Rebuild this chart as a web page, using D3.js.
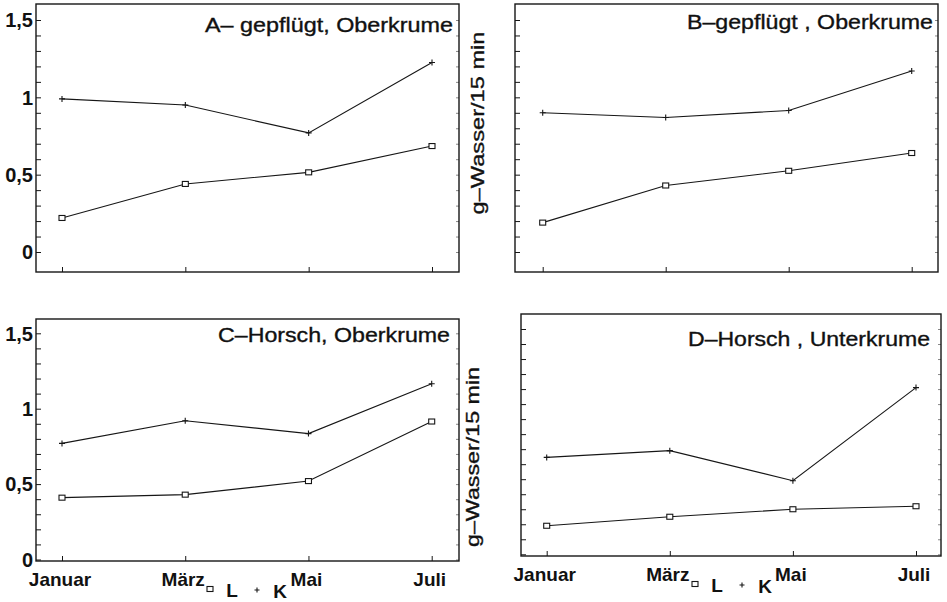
<!DOCTYPE html>
<html>
<head>
<meta charset="utf-8">
<script src="https://cdn.jsdelivr.net/npm/d3@7"></script>
<style>
    body { margin: 0; background: #fff; }
    svg text { font-family: 'Liberation Sans', Arial, sans-serif; fill: #111; }
    .heavy { stroke: #111; stroke-width: 0.35px; }
</style>
</head>
<body>
<div id="graph"></div>
<script>
// The data...
var months      = [ 'Januar', 'März', 'Mai', 'Juli' ];
var seriesNames = [ 'L', 'K' ];

var panelTitles = [ 'A– gepflügt, Oberkrume',
                    'B–gepflügt , Oberkrume',
                    'C–Horsch, Oberkrume',
                    'D–Horsch , Unterkrume' ];

// L (squares), one row per panel A..D
var valuesL = [ [ 0.22, 0.44, 0.515, 0.685 ],
                [ 0.19, 0.43, 0.525, 0.64  ],
                [ 0.41, 0.43, 0.52,  0.915 ],
                [ 0.19, 0.25, 0.30,  0.32  ] ];

// K (plus signs)
var valuesK = [ [ 0.99,  0.95, 0.77,  1.225 ],
                [ 0.90,  0.87, 0.915, 1.17  ],
                [ 0.77,  0.92, 0.835, 1.165 ],
                [ 0.645, 0.69, 0.49,  1.11  ] ];

var yTickValues = [ 0, 0.5, 1, 1.5 ];
var yTickLabels = [ '0', '0,5', '1', '1,5' ];
var yAxisTitle  = 'g–Wasser/15 min';

// Layout of the four panels (pixels)
var panels = [
    { left: 36,  right: 459, top: 4,   bottom: 272, y0: 252,   y1: 20,    x0: 62,    x1: 432,   ylab: true,  xlab: false, tw: 248, ty: 32  },
    { left: 515, right: 938, top: 4,   bottom: 272, y0: 252,   y1: 20,    x0: 542.7, x1: 911.7, ylab: false, xlab: false, tw: 246, ty: 28.5 },
    { left: 36,  right: 459, top: 319, bottom: 561, y0: 559.5, y1: 333.3, x0: 62,    x1: 431.7, ylab: true,  xlab: true,  tw: 232, ty: 342 },
    { left: 521, right: 941, top: 314, bottom: 556, y0: 554.3, y1: 329,   x0: 546.7, x1: 916,   ylab: false, xlab: true,  tw: 242, ty: 346 }
];

var titleRight = [ 453, 933, 450, 930 ];

var ink = '#161616';

var svg = d3.select ('#graph').append ('svg')
            .attr ('width', 947)
            .attr ('height', 602);

function drawPlus (g, x, y, s)
{
    g.append ('path')
     .attr ('d', 'M' + (x - s) + ',' + y + 'H' + (x + s) + 'M' + x + ',' + (y - s) + 'V' + (y + s))
     .attr ('stroke', ink)
     .attr ('stroke-width', 1.1);
}

panels.forEach (function (p, i)
{
    var g = svg.append ('g');

    var xScale = d3.scalePoint ()
                   .domain (months)
                   .range ([ p.x0, p.x1 ]);

    var yScale = d3.scaleLinear ()
                   .domain ([ 0, 1.5 ])
                   .range ([ p.y0, p.y1 ]);

    var minorTicks = d3.range (0, 1.51, 0.1);

    // left ticks, pointing inward
    g.append ('g')
     .attr ('transform', 'translate(' + p.left + ',0)')
     .call (d3.axisRight (yScale).tickValues (minorTicks).tickSize (5).tickFormat (''))
     .call (function (a) { a.select ('.domain').remove (); a.selectAll ('line').attr ('stroke', ink); });

    // faint right ticks
    g.append ('g')
     .attr ('transform', 'translate(' + p.right + ',0)')
     .call (d3.axisLeft (yScale).tickValues (minorTicks).tickSize (3).tickFormat (''))
     .call (function (a) { a.select ('.domain').remove (); a.selectAll ('line').attr ('stroke', '#888'); });

    // month ticks on the bottom frame
    g.append ('g')
     .attr ('transform', 'translate(0,' + p.bottom + ')')
     .call (d3.axisTop (xScale).tickSize (5).tickFormat (''))
     .call (function (a) { a.select ('.domain').remove (); a.selectAll ('line').attr ('stroke', ink); });

    // frame
    g.append ('rect')
     .attr ('x', p.left)
     .attr ('y', p.top)
     .attr ('width', p.right - p.left)
     .attr ('height', p.bottom - p.top)
     .attr ('fill', 'none')
     .attr ('stroke', ink)
     .attr ('stroke-width', 1.4);

    if (p.ylab)
    {
        yTickValues.forEach (function (v, k)
        {
            g.append ('text')
             .attr ('x', 33)
             .attr ('y', yScale (v))
             .attr ('dy', '0.36em')
             .attr ('text-anchor', 'end')
             .attr ('font-size', '20px')
             .attr ('font-weight', 'bold')
             .text (yTickLabels[k]);
        });
    }

    var line = d3.line ()
                 .x (function (d, j) { return xScale (months[j]); })
                 .y (function (d)    { return yScale (d); });

    [ valuesL[i], valuesK[i] ].forEach (function (vals)
    {
        g.append ('path')
         .attr ('d', line (vals))
         .attr ('fill', 'none')
         .attr ('stroke', ink)
         .attr ('stroke-width', 1.1);
    });

    valuesL[i].forEach (function (v, j)
    {
        g.append ('rect')
         .attr ('x', xScale (months[j]) - 3)
         .attr ('y', yScale (v) - 2.5)
         .attr ('width', 6)
         .attr ('height', 5)
         .attr ('fill', '#fff')
         .attr ('stroke', ink)
         .attr ('stroke-width', 1.1);
    });

    valuesK[i].forEach (function (v, j)
    {
        drawPlus (g, xScale (months[j]), yScale (v), 3);
    });

    // panel title
    g.append ('text')
     .attr ('class', 'heavy')
     .attr ('x', titleRight[i])
     .attr ('y', p.ty)
     .attr ('text-anchor', 'end')
     .attr ('font-size', '20px')
     .attr ('textLength', p.tw)
     .attr ('lengthAdjust', 'spacingAndGlyphs')
     .text (panelTitles[i]);

    if (p.xlab)
    {
        months.forEach (function (m)
        {
            g.append ('text')
             .attr ('x', xScale (m) - 2)
             .attr ('y', p.bottom + 25)
             .attr ('text-anchor', 'middle')
             .attr ('font-size', '19px')
             .attr ('font-weight', 'bold')
             .text (m);
        });

        // legend  □ L  + K
        var lx = p.left + 174;
        var ly = p.bottom + 28;

        g.append ('rect')
         .attr ('x', lx - 3)
         .attr ('y', ly - 2.5)
         .attr ('width', 6)
         .attr ('height', 5)
         .attr ('fill', '#fff')
         .attr ('stroke', ink)
         .attr ('stroke-width', 1.1);

        g.append ('text')
         .attr ('x', lx + 22)
         .attr ('y', ly + 8)
         .attr ('text-anchor', 'middle')
         .attr ('font-size', '19px')
         .attr ('font-weight', 'bold')
         .text (seriesNames[0]);

        drawPlus (g, lx + 47, ly + 1, 2.5);

        g.append ('text')
         .attr ('x', lx + 70)
         .attr ('y', ly + 9)
         .attr ('text-anchor', 'middle')
         .attr ('font-size', '19px')
         .attr ('font-weight', 'bold')
         .text (seriesNames[1]);
    }
});

// the two vertical axis titles between the columns
[ [ 478, 123, 183 ], [ 473, 457, 180 ] ].forEach (function (t)
{
    svg.append ('text')
       .attr ('class', 'heavy')
       .attr ('transform', 'translate(' + t[0] + ',' + t[1] + ') rotate(-90)')
       .attr ('text-anchor', 'middle')
       .attr ('dy', '0.35em')
       .attr ('font-size', '18px')
       .attr ('textLength', t[2])
       .attr ('lengthAdjust', 'spacingAndGlyphs')
       .text (yAxisTitle);
});
</script>
</body>
</html>
